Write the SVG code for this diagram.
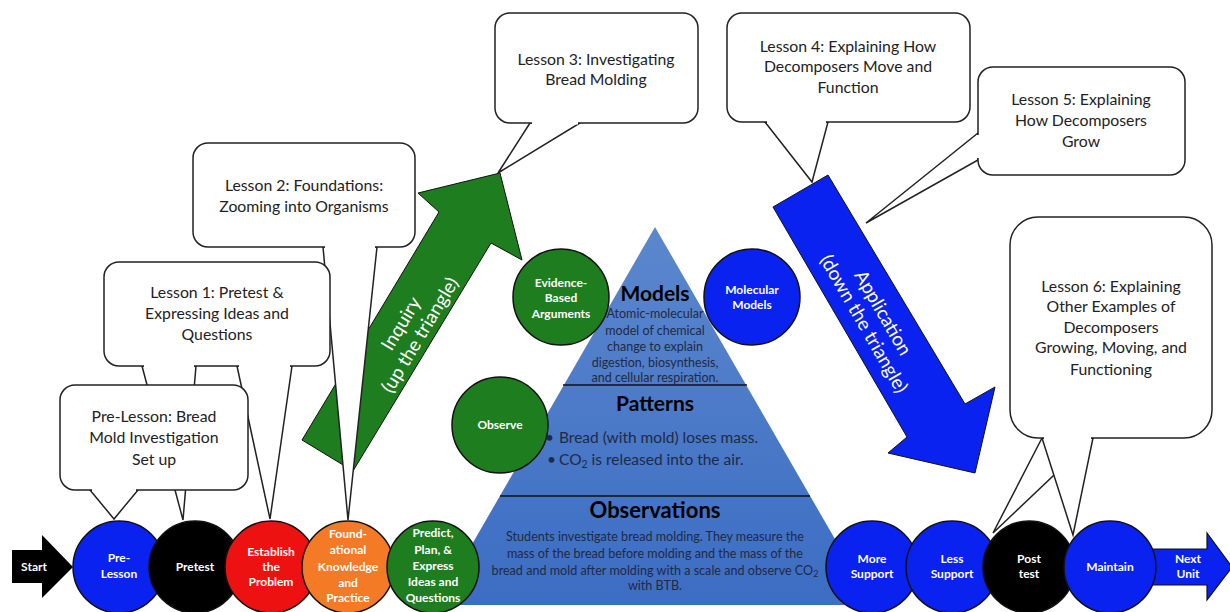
<svg xmlns="http://www.w3.org/2000/svg" width="1230" height="612" viewBox="0 0 1230 612">
<defs>
<linearGradient id="triGrad" x1="0" y1="0" x2="0" y2="1">
<stop offset="0" stop-color="#5b87cd"/>
<stop offset="1" stop-color="#3c6dc3"/>
</linearGradient>
<style>
.lt{font-family:Lato,"Open Sans",sans-serif;font-size:15.8px;fill:#222;text-anchor:middle}
.ct{font-family:Lato,"Open Sans",sans-serif;font-size:12px;font-weight:bold;fill:#fff;text-anchor:middle}
.box{fill:#fff;stroke:#222;stroke-width:1.5}
.ptr{fill:#fff;stroke:#222;stroke-width:1.5;stroke-linejoin:miter}
.cov{stroke:#fff;stroke-width:3;fill:none}
.circ{stroke:#111;stroke-width:1.5}
.blue{fill:#0a22f0}
.green{fill:#1e7d1e}
.hd{font-family:Lato,"Open Sans",sans-serif;font-weight:bold;fill:#000;text-anchor:middle}
.bt{font-family:Lato,"Open Sans",sans-serif;fill:#1f2a44;text-anchor:middle}
.bl{font-family:Lato,"Open Sans",sans-serif;fill:#1f2a44;text-anchor:start;font-size:15.5px}
.at{font-family:Lato,"Open Sans",sans-serif;font-size:19px;fill:#fff;text-anchor:middle}
</style>
</defs>
<rect width="1230" height="612" fill="#fff"/>

<g id="pyramid">
<polygon points="655,227 873,605 437,605" fill="url(#triGrad)"/>
<line x1="563" y1="385" x2="747" y2="385" stroke="#111" stroke-width="1.5"/>
<line x1="500" y1="496" x2="810" y2="496" stroke="#111" stroke-width="1.5"/>
</g>

<g id="n-evidence"><circle class="circ green" cx="561" cy="297" r="48"/>
<text class="ct" x="561" y="287">Evidence-</text><text class="ct" x="561" y="302">Based</text><text class="ct" x="561" y="318">Arguments</text></g>
<g id="n-molecular"><circle class="circ blue" cx="752" cy="297" r="48"/>
<text class="ct" x="752" y="294">Molecular</text><text class="ct" x="752" y="309">Models</text></g>
<g id="n-observe"><circle class="circ green" cx="500" cy="425" r="48"/>
<text class="ct" x="500" y="429">Observe</text></g>

<g id="pyramid-text">
<text class="hd" x="655" y="301" font-size="21">Models</text>
<text class="bt" font-size="12.5"><tspan x="655" y="318">Atomic-molecular</tspan><tspan x="655" y="335">model of chemical</tspan><tspan x="655" y="351">change to explain</tspan><tspan x="655" y="367">digestion, biosynthesis,</tspan><tspan x="655" y="382">and cellular respiration.</tspan></text>
<text class="hd" x="655" y="411" font-size="21">Patterns</text>
<text class="bl"><tspan x="545" y="443">•</tspan><tspan x="559" y="443">Bread (with mold) loses mass.</tspan></text>
<text class="bl"><tspan x="547" y="465">•</tspan><tspan x="559" y="465">CO</tspan><tspan font-size="10.5" dy="3">2</tspan><tspan dy="-3"> is released into the air.</tspan></text>
<text class="hd" x="655" y="518" font-size="22">Observations</text>
<text class="bt" font-size="12.6"><tspan x="655" y="541">Students investigate bread molding. They measure the</tspan><tspan x="655" y="558">mass of the bread before molding and the mass of the</tspan><tspan x="655" y="575">bread and mold after molding with a scale and observe CO<tspan font-size="9" dy="2">2</tspan></tspan><tspan x="655" y="590">with BTB.</tspan></text>
</g>

<g id="inquiry-arrow">
<polygon points="302,440 439,212 418,193 500,173 522,260 491,243 353,471" fill="#1e7d1e" stroke="#111" stroke-width="1"/>
<g transform="translate(410,329) rotate(-59)"><text class="at" x="0" y="-4">Inquiry</text><text class="at" x="0" y="18">(up the triangle)</text></g>
</g>
<g id="application-arrow">
<polygon points="773,207 828,175 965,404 995,387 975,473 888,453 907,437" fill="#0a22f0" stroke="#111" stroke-width="1"/>
<g transform="translate(874,318) rotate(60)"><text class="at" x="0" y="-4">Application</text><text class="at" x="0" y="18">(down the triangle)</text></g>
</g>

<g id="connectors">
<polygon class="ptr" points="323,247 348,520 377,247"/>
<polygon class="ptr" points="142,366 183,520 196,366"/>
<polygon class="ptr" points="237,366 270,519 292,366"/>
<polygon class="ptr" points="90,490 114,519 138,490"/>
<polygon class="ptr" points="530,123 498,173 580,123"/>
<polygon class="ptr" points="765,122 812,182 828,122"/>
<polygon class="ptr" points="978,133 866,223 978,160"/>
<polygon class="ptr" points="1042,438 993,533 1093,438"/>
<polygon class="ptr" points="1042,438 1073,535 1093,438"/>
</g>

<g id="n-lesson2">
<rect class="box" x="193" y="143" width="222" height="104" rx="15"/>
<line class="cov" x1="325" y1="247" x2="375" y2="247"/>
<text class="lt"><tspan x="304" y="191">Lesson 2: Foundations:</tspan><tspan x="304" y="212">Zooming into Organisms</tspan></text>
</g>
<g id="n-lesson1">
<rect class="box" x="104" y="262" width="226" height="104" rx="15"/>
<line class="cov" x1="144" y1="366" x2="194" y2="366"/>
<line class="cov" x1="239" y1="366" x2="290" y2="366"/>
<text class="lt"><tspan x="217" y="298">Lesson 1: Pretest &amp;</tspan><tspan x="217" y="319">Expressing Ideas and</tspan><tspan x="217" y="340">Questions</tspan></text>
</g>
<g id="n-prelesson-note">
<rect class="box" x="60" y="385" width="188" height="105" rx="15"/>
<line class="cov" x1="92" y1="490" x2="136" y2="490"/>
<text class="lt"><tspan x="154" y="422">Pre-Lesson: Bread</tspan><tspan x="154" y="443">Mold Investigation</tspan><tspan x="154" y="465">Set up</tspan></text>
</g>
<g id="n-lesson3">
<rect class="box" x="495" y="13" width="203" height="110" rx="15"/>
<line class="cov" x1="532" y1="123" x2="578" y2="123"/>
<text class="lt"><tspan x="596" y="65">Lesson 3: Investigating</tspan><tspan x="596" y="85">Bread Molding</tspan></text>
</g>
<g id="n-lesson4">
<rect class="box" x="727" y="13" width="243" height="109" rx="15"/>
<line class="cov" x1="767" y1="122" x2="826" y2="122"/>
<text class="lt"><tspan x="848" y="52">Lesson 4: Explaining How</tspan><tspan x="848" y="72">Decomposers Move and</tspan><tspan x="848" y="93">Function</tspan></text>
</g>
<g id="n-lesson5">
<rect class="box" x="978" y="67" width="207" height="108" rx="15"/>
<line class="cov" x1="978" y1="135" x2="978" y2="158"/>
<text class="lt"><tspan x="1081" y="105">Lesson 5: Explaining</tspan><tspan x="1081" y="126">How Decomposers</tspan><tspan x="1081" y="147">Grow</tspan></text>
</g>
<g id="n-lesson6">
<rect class="box" x="1010" y="217" width="202" height="221" rx="28"/>
<line class="cov" x1="1044" y1="438" x2="1091" y2="438"/>
<text class="lt"><tspan x="1111" y="292">Lesson 6: Explaining</tspan><tspan x="1111" y="312">Other Examples of</tspan><tspan x="1111" y="333">Decomposers</tspan><tspan x="1111" y="353">Growing, Moving, and</tspan><tspan x="1111" y="375">Functioning</tspan></text>
</g>

<g id="n-start">
<polygon points="12,550 42,550 42,535 73,567 42,598 42,583 12,583" fill="#000"/>
<text class="ct" x="34" y="571">Start</text>
</g>
<g id="n-prelesson"><circle class="circ blue" cx="119" cy="567" r="46"/>
<text class="ct" x="119" y="562">Pre-</text><text class="ct" x="119" y="578">Lesson</text></g>
<g id="n-pretest"><circle class="circ" fill="#000" cx="195" cy="567" r="46"/>
<text class="ct" x="195" y="571">Pretest</text></g>
<g id="n-establish"><circle class="circ" fill="#ee1111" cx="271" cy="567" r="46"/>
<text class="ct" x="271" y="556">Establish</text><text class="ct" x="271" y="571">the</text><text class="ct" x="271" y="586">Problem</text></g>
<g id="n-foundational"><circle class="circ" fill="#f47a26" cx="348" cy="567" r="46"/>
<text class="ct" x="348" y="538">Found-</text><text class="ct" x="348" y="554">ational</text><text class="ct" x="348" y="571">Knowledge</text><text class="ct" x="348" y="587">and</text><text class="ct" x="348" y="602">Practice</text></g>
<g id="n-predict"><circle class="circ green" cx="433" cy="567" r="46"/>
<text class="ct" x="433" y="537">Predict,</text><text class="ct" x="433" y="554">Plan, &amp;</text><text class="ct" x="433" y="570">Express</text><text class="ct" x="433" y="586">Ideas and</text><text class="ct" x="433" y="602">Questions</text></g>

<g id="n-nextunit">
<polygon points="1150,549 1207,549 1207,533 1232,567 1207,600 1207,585 1150,585" fill="#0a22f0" stroke="#111" stroke-width="1.2"/>
<text class="ct" x="1188" y="563">Next</text><text class="ct" x="1188" y="578">Unit</text>
</g>
<g id="n-more"><circle class="circ blue" cx="872" cy="567" r="46"/>
<text class="ct" x="872" y="563">More</text><text class="ct" x="872" y="578">Support</text></g>
<g id="n-less"><circle class="circ blue" cx="952" cy="567" r="46"/>
<text class="ct" x="952" y="563">Less</text><text class="ct" x="952" y="578">Support</text></g>
<g id="n-posttest"><circle class="circ" fill="#000" cx="1029" cy="567" r="46"/>
<text class="ct" x="1029" y="563">Post</text><text class="ct" x="1029" y="578">test</text></g>
<g id="n-maintain"><circle class="circ blue" cx="1110" cy="567" r="46"/>
<text class="ct" x="1110" y="571">Maintain</text></g>
</svg>
